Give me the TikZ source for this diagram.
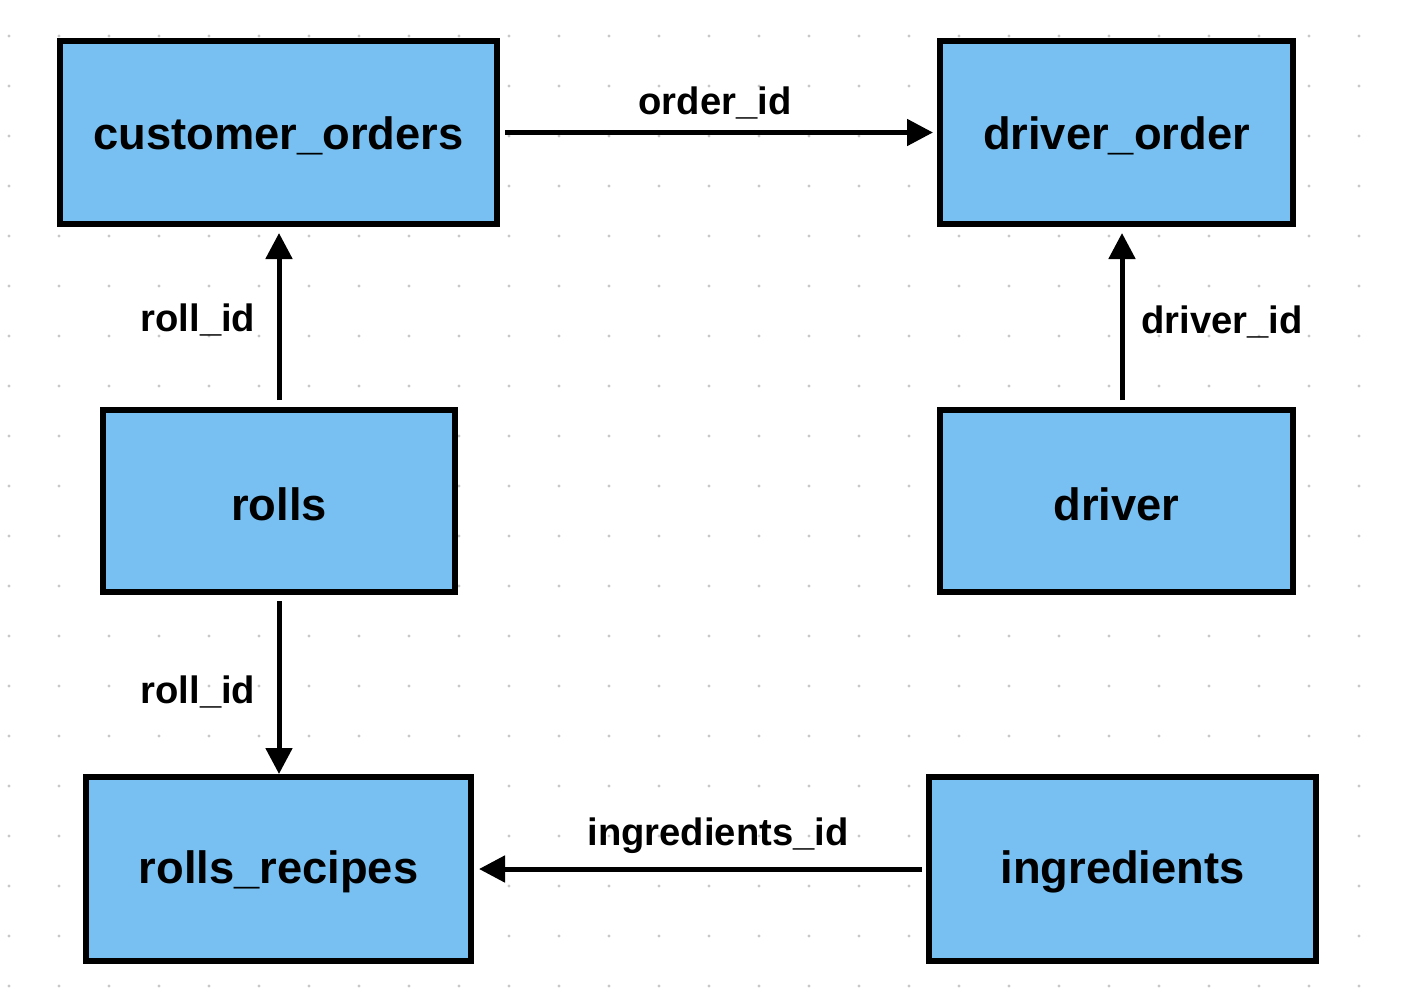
\documentclass[tikz,border=0pt]{standalone}
\usepackage{fontspec}
\setmainfont{Liberation Sans}
\usetikzlibrary{arrows.meta}
\definecolor{boxfill}{HTML}{77C0F1}
\definecolor{dotgray}{HTML}{C8C8C8}
\begin{document}
\begin{tikzpicture}[x=1pt,y=-1pt,
  tbl/.style={draw=black, line width=6pt, fill=boxfill, inner sep=0pt,
    font=\fontsize{45.3}{50}\selectfont\bfseries},
  tbltext/.style={inner sep=0pt, font=\fontsize{45.3}{50}\selectfont\bfseries},
  rel/.style={line width=5pt, -{Triangle[length=26pt,width=26pt]}},
  lbl/.style={inner sep=0pt, font=\fontsize{38.2}{42}\selectfont\bfseries}]
\useasboundingbox (0,0) rectangle (1404,1008);
\fill[white] (0,0) rectangle (1404,1008);
\foreach \x in {9,59,...,1409} \foreach \y in {36,86,...,986} \fill[dotgray] (\x,\y) circle (1.6pt);
\node[tbl, minimum width=437pt, minimum height=183pt] (co) at (278.5,132.5) {};
\node[tbl, minimum width=353pt, minimum height=183pt] (do) at (1116.5,132.5) {};
\node[tbl, minimum width=352pt, minimum height=182pt] (ro) at (279,501) {};
\node[tbl, minimum width=353pt, minimum height=182pt] (dr) at (1116.5,501) {};
\node[tbl, minimum width=385pt, minimum height=184pt] (rr) at (278.5,869) {};
\node[tbl, minimum width=387pt, minimum height=184pt] (in) at (1122.5,869) {};
\node[tbltext] (cot) at ([yshift=-3pt]co.center) {customer\_orders};
\node[tbltext] (dot) at ([yshift=-3pt]do.center) {driver\_order};
\node[tbltext] (rot) at ([yshift=-3pt]ro.center) {rolls};
\node[tbltext] (drt) at ([yshift=-3pt]dr.center) {driver};
\node[tbltext] (rrt) at ([yshift=-3pt]rr.center) {rolls\_recipes};
\node[tbltext] (int) at ([yshift=-3pt]in.center) {ingredients};
\draw[rel, shorten <=5pt, shorten >=4pt] (co.east) -- (do.west);
\draw[rel, shorten <=7pt, shorten >=6pt] (ro.north) -- (ro.north |- co.south);
\coordinate (drtop) at ([xshift=5.5pt]dr.north);
\draw[rel, shorten <=7pt, shorten >=6pt] (drtop) -- (drtop |- do.south);
\draw[rel, shorten <=6pt] (ro.south) -- (ro.south |- rr.north);
\draw[rel, shorten <=4pt, shorten >=5pt] (in.west) -- (in.west -| rr.east);
\node[lbl] (l1) at (715,103) {order\_id};
\node[lbl] (l2) at (198,320) {roll\_id};
\node[lbl] (l3) at (1222,322) {driver\_id};
\node[lbl] (l4) at (198,692) {roll\_id};
\node[lbl] (l5) at (718,836) {ingredients\_id};
\end{tikzpicture}
\end{document}
